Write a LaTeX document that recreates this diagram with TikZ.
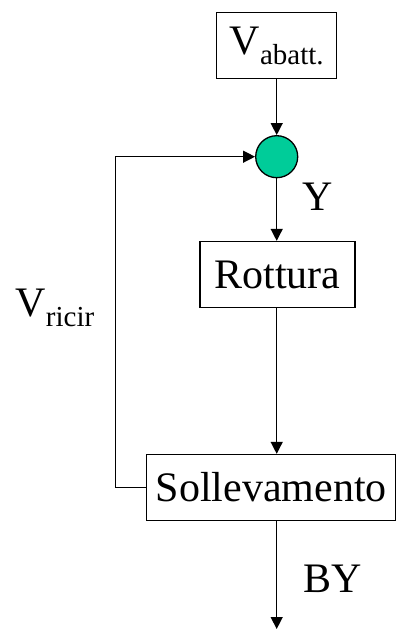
\documentclass[tikz,border=0pt]{standalone}
\usepackage{fontspec}
\setmainfont{Liberation Serif}
\usepackage{xcolor}
\usepackage{tikz}
\usetikzlibrary{arrows.meta, positioning, calc}
\definecolor{mixgreen}{RGB}{0, 204, 153}

\newcommand{\sub}[1]{\raisebox{-0.24em}{\fontsize{14.5}{16}\selectfont #1}}

\begin{document}
\begin{tikzpicture}[
    x=0.5pt, y=-0.5pt,
    line width=0.65pt,
    box/.style={rectangle, draw=black, inner sep=0pt,
                minimum height=33pt, font=\fontsize{21}{24}\selectfont},
    mixer/.style={circle, draw=black, fill=mixgreen, minimum size=21pt, inner sep=0pt},
    lbl/.style={inner sep=0pt, font=\fontsize{21}{24}\selectfont},
    flow/.style={-{Triangle[length=6pt,width=6pt]}}
]
\useasboundingbox (0,0) rectangle (396,630);

%% Blocks
\node[box, minimum width=60pt]    (VA)   at (276.7, 45.5)  {V\sub{abatt.}};
\node[mixer]                      (MIX)  at (276.7, 156.7) {};
\node[box, minimum width=77.5pt]  (ROT)  at (277.5, 274.5) {Rottura};
\node[box, minimum width=124.5pt] (SOLL) at (271.2, 487.5) {Sollevamento};

%% Labels
\node[lbl, anchor=base west] (LY)  at (301.7, 210.5) {Y};
\node[lbl, anchor=base west] (LBY) at (303, 592.7)   {BY};
\node[lbl, anchor=base west] (LVR) at (15, 316.7)    {V\sub{ricir}};

%% Free ends
\coordinate (OUT)  at (276.7, 629);
\coordinate (LOOP) at (115.3, 0);

%% Main line
\draw[flow] (VA) -- (MIX);
\draw[flow] (MIX) -- (MIX |- ROT.north);
\draw[flow] (ROT.south -| MIX) -- (SOLL.north -| MIX);
\draw[flow] (SOLL.south -| MIX) -- (OUT);

%% Recycle
\draw[flow] (SOLL.west) -- (SOLL.west -| LOOP) -- (MIX -| LOOP) -- (MIX.west);

\end{tikzpicture}
\end{document}
